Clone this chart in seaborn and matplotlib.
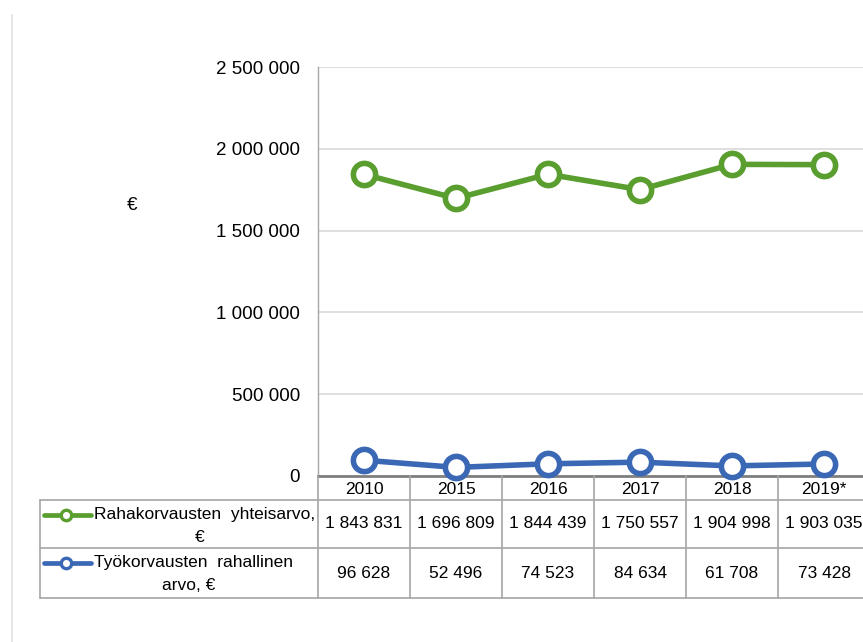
import numpy as np
import pandas as pd
import matplotlib.pyplot as plt
import seaborn as sns
from matplotlib.lines import Line2D

sns.set_style("white")
plt.rcParams['font.family'] = ['Liberation Sans', 'DejaVu Sans']
plt.rcParams['text.color'] = 'black'
plt.rcParams['ytick.color'] = 'black'

years = ['2010', '2015', '2016', '2017', '2018', '2019*']
raha = [1843831, 1696809, 1844439, 1750557, 1904998, 1903035]
tyo = [96628, 52496, 74523, 84634, 61708, 73428]
row_labels = [('Rahakorvausten  yhteisarvo,', '€'),
              ('Työkorvausten  rahallinen', 'arvo, €')]
yticks = [0, 500000, 1000000, 1500000, 2000000, 2500000]

green = '#5A9E2F'
blue = '#3A68B5'
colors = [green, blue]
series = [raha, tyo]

W, H = 863, 642
fig = plt.figure(figsize=(W / 100, H / 100), dpi=100)


def fx(px):
    return px / W


def fy(py):
    return 1 - py / H


# plot area runs past the right edge of the picture (cropped like the original)
ax = fig.add_axes([fx(318), fy(476), 552 / W, 409 / H])

pos = np.arange(len(years))
for vals, c in zip(series, colors):
    df = pd.DataFrame({'x': pos, 'y': vals})
    sns.lineplot(data=df, x='x', y='y', ax=ax, color=c, lw=4.0,
                 marker='o', markersize=16, markerfacecolor='white',
                 markeredgecolor=c, markeredgewidth=4.0, clip_on=False, zorder=5)

ax.set_xlim(-0.5, len(years) - 0.5)
ax.set_ylim(0, 2500000)
ax.set_yticks(yticks)
ax.set_yticklabels([f'{v:,}'.replace(',', ' ') for v in yticks], fontsize=13.5)
ax.tick_params(axis='y', length=0, pad=13)
ax.set_xticks([])
ax.set_xlabel('')
ax.set_ylabel('')
ax.grid(axis='y', color='#d9d9d9', lw=1.2)
ax.grid(axis='x', visible=False)
for s in ['top', 'right']:
    ax.spines[s].set_visible(False)
ax.spines['left'].set_color('#a6a6a6')
ax.spines['left'].set_linewidth(1.0)
ax.spines['bottom'].set_color('#7f7f7f')
ax.spines['bottom'].set_linewidth(2.0)

fig.text(fx(132), fy(205), '€', fontsize=13.5, ha='center', va='center')

# frame line on the left
fig.add_artist(Line2D([fx(12), fx(12)], [fy(15), fy(642)], color='#e0e0e0', lw=1.2))

# data table
tc = '#a6a6a6'
col_x = [318 + i * 92 for i in range(len(years) + 1)]
row_y = [476, 500, 548, 598]


def hline(y, x0, x1):
    fig.add_artist(Line2D([fx(x0), fx(x1)], [fy(y), fy(y)], color=tc, lw=1.2))


def vline(x, y0, y1):
    fig.add_artist(Line2D([fx(x), fx(x)], [fy(y0), fy(y1)], color=tc, lw=1.2))


hline(500, 40, 880)
hline(548, 40, 880)
hline(598, 40, 880)
vline(40, 500, 598)
for x in col_x:
    vline(x, 476, 598)

tfs = 12.5
for i, yr in enumerate(years):
    cx = (col_x[i] + col_x[i + 1]) / 2
    fig.text(fx(cx), fy(489), yr, fontsize=tfs, ha='center', va='center')

for r, vals in enumerate(series):
    cy = (row_y[r + 1] + row_y[r + 2]) / 2
    for i, v in enumerate(vals):
        cx = (col_x[i] + col_x[i + 1]) / 2
        fig.text(fx(cx), fy(cy), f'{v:,}'.replace(',', ' '), fontsize=tfs,
                 ha='center', va='center')

label_pos = [(515, 537, 200), (563, 585, 189)]
for (l1, l2), (y1, y2, c2), c in zip(row_labels, label_pos, colors):
    fig.add_artist(Line2D([fx(44), fx(91)], [fy(y1), fy(y1)], color=c, lw=3.4))
    fig.add_artist(Line2D([fx(66)], [fy(y1)], color=c, marker='o', markersize=7.5,
                          markerfacecolor='white', markeredgecolor=c, markeredgewidth=2.4))
    fig.text(fx(94), fy(y1), l1, fontsize=tfs, ha='left', va='center')
    fig.text(fx(c2), fy(y2), l2, fontsize=tfs, ha='center', va='center')

fig.savefig('out.png', dpi=100, facecolor='white')
